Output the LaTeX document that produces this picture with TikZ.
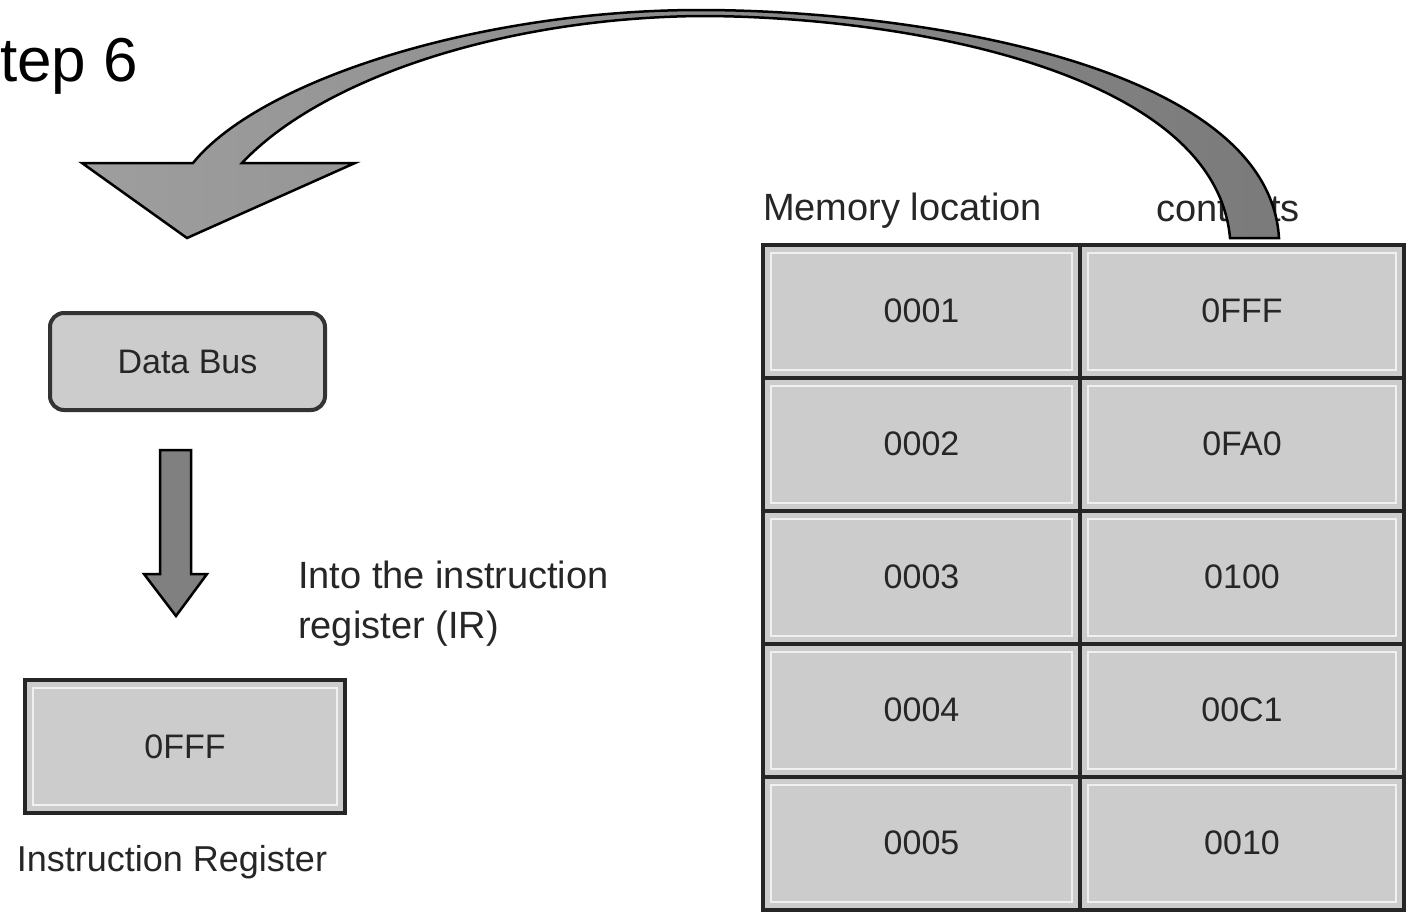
\documentclass[tikz,border=0pt]{standalone}
\usepackage{fontspec}
\setmainfont{Liberation Sans}
\usetikzlibrary{positioning, calc}

\tikzset{
	lbl/.style={font=\fontsize{34}{50}\selectfont, inner sep=0pt, text=black!85},
	biglbl/.style={lbl, font=\fontsize{38}{50}\selectfont},
	cell/.style={lbl, draw=black!85, line width=4pt, fill=black!20, outer sep=0pt, minimum height=133pt,
		path picture={\draw[black!6, line width=2pt] ([shift={(8pt,-8pt)}]path picture bounding box.north west) rectangle ([shift={(-8pt,8pt)}]path picture bounding box.south east);}},
	memloc/.style={cell, minimum width=317pt},
	memval/.style={cell, minimum width=324pt},
	bus/.style={lbl, draw=black!80, line width=4pt, fill=black!20, rounded corners=14pt, minimum width=275pt, minimum height=97pt},
	reg/.style={cell, minimum width=320pt},
	blockarrow/.style={draw=black, line width=2.5pt, line join=miter},
}

\begin{document}
\begin{tikzpicture}[x=1pt, y=-1pt]
		\useasboundingbox (0,0) rectangle (1407,913);

		\node[anchor=base west, inner sep=0pt, font=\fontsize{62}{70}\selectfont] (title) at (0,81) {tep 6};

		\node[bus] (bus) at (187.5,361.5) {Data Bus};
		\node[reg] (ir) at (185,746.5) {0FFF};
		\node[biglbl, font=\fontsize{36}{50}\selectfont] (irname) [below=32pt of ir, xshift=-13pt] {Instruction Register};
		\node[biglbl, align=left, anchor=north west] (into) at (298,561) {Into the instruction\\register (IR)};

		\draw[blockarrow, fill=black!50] (160,450) -- (191,450) -- (191,574) -- (207,574) -- (176,616) -- (144,574) -- (160,574) -- cycle;

		\node[memloc] (m1) at (921.5,311) {0001};
		\node[memloc, below=0pt of m1] (m2) {0002};
		\node[memloc, below=0pt of m2] (m3) {0003};
		\node[memloc, below=0pt of m3] (m4) {0004};
		\node[memloc, below=0pt of m4] (m5) {0005};

		\node[memval, right=0pt of m1] (v1) {0FFF};
		\node[memval, right=0pt of m2] (v2) {0FA0};
		\node[memval, right=0pt of m3] (v3) {0100};
		\node[memval, right=0pt of m4] (v4) {00C1};
		\node[memval, right=0pt of m5] (v5) {0010};

		\node[biglbl] (loc) [above=16pt of m1, xshift=-19pt] {Memory location};
		\node[biglbl, anchor=base] (cont) at (1228,221) {contents};

		\draw[blockarrow, left color=black!38, right color=black!52] (1230,238) -- (1279,238)
			.. controls (1268,60) and (900,10) .. (700,10)
			.. controls (480,10) and (260,80) .. (193,163)
			-- (82,163) -- (187,238) -- (355,163) -- (242,163)
			.. controls (320,80) and (500,18) .. (700,16)
			.. controls (900,16) and (1215,70) .. (1230,238) -- cycle;
\end{tikzpicture}
\end{document}
